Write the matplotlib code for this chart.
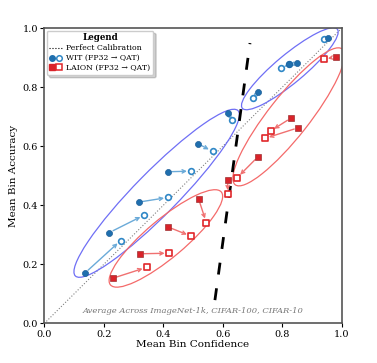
import matplotlib
matplotlib.use("Agg")
import matplotlib.pyplot as plt
from matplotlib.patches import Ellipse
from matplotlib.lines import Line2D
from matplotlib.legend_handler import HandlerTuple

plt.rcParams['font.family'] = 'DejaVu Serif'

# WIT bins: FP32 (filled) -> QAT (open)
wit_fp_x = [0.137, 0.219, 0.317, 0.416, 0.517, 0.617, 0.720, 0.822, 0.851, 0.956]
wit_fp_y = [0.171, 0.308, 0.411, 0.514, 0.609, 0.714, 0.785, 0.878, 0.881, 0.966]
wit_q_x = [0.257, 0.336, 0.417, 0.494, 0.566, 0.631, 0.703, 0.796, 0.824, 0.941]
wit_q_y = [0.281, 0.367, 0.427, 0.516, 0.583, 0.690, 0.763, 0.864, 0.878, 0.965]

# LAION bins
laion_fp_x = [0.230, 0.322, 0.416, 0.519, 0.617, 0.719, 0.830, 0.854, 0.980]
laion_fp_y = [0.153, 0.236, 0.327, 0.422, 0.486, 0.565, 0.696, 0.663, 0.903]
laion_q_x = [0.344, 0.419, 0.493, 0.545, 0.617, 0.649, 0.761, 0.742, 0.940]
laion_q_y = [0.190, 0.238, 0.296, 0.342, 0.437, 0.494, 0.652, 0.627, 0.895]

# ellipses: center x, center y, width, height, angle
wit_ell = [(0.378, 0.441, 0.783, 0.145, 45.7), (0.826, 0.863, 0.417, 0.096, 40.0)]
laion_ell = [(0.409, 0.288, 0.488, 0.13, 40.2), (0.822, 0.700, 0.584, 0.137, 52.0)]

# dashed separator
sep_x = [0.574, 0.692]
sep_y = [0.079, 0.950]

fig = plt.figure(figsize=(3.77, 3.63), dpi=100)
ax = fig.add_axes([0.1175, 0.109, 0.7885, 0.813])

ax.plot([0, 1], [0, 1], linestyle=':', color='gray', lw=0.8, zorder=1)

for cx, cy, w, h, a in wit_ell:
    ax.add_patch(Ellipse((cx, cy), w, h, angle=a, fill=False,
                         edgecolor='#6f6ff5', lw=0.9, zorder=2))
for cx, cy, w, h, a in laion_ell:
    ax.add_patch(Ellipse((cx, cy), w, h, angle=a, fill=False,
                         edgecolor='#f46a6a', lw=0.9, zorder=2))

ax.plot(sep_x, sep_y, color='black', lw=2.0, dashes=(4.3, 5), zorder=3)

for x0, y0, x1, y1 in zip(wit_fp_x, wit_fp_y, wit_q_x, wit_q_y):
    ax.annotate('', xy=(x1, y1), xytext=(x0, y0),
                arrowprops=dict(arrowstyle='->', color='#6aaad8', lw=1.0,
                                shrinkA=3, shrinkB=3, mutation_scale=6), zorder=4)
for x0, y0, x1, y1 in zip(laion_fp_x, laion_fp_y, laion_q_x, laion_q_y):
    ax.annotate('', xy=(x1, y1), xytext=(x0, y0),
                arrowprops=dict(arrowstyle='->', color='#f07070', lw=1.0,
                                shrinkA=3, shrinkB=3, mutation_scale=6), zorder=4)

ax.scatter(wit_q_x, wit_q_y, s=17, facecolor='white', edgecolor='#2f87c6',
           linewidth=1.2, zorder=5)
ax.scatter(wit_fp_x, wit_fp_y, s=19, color='#1f6fae', edgecolor='#1f5f99',
           linewidth=0.5, zorder=6)
ax.scatter(laion_q_x, laion_q_y, s=18, marker='s', facecolor='white',
           edgecolor='#e0262a', linewidth=1.2, zorder=5)
ax.scatter(laion_fp_x, laion_fp_y, s=19, marker='s', color='#d9232a',
           edgecolor='#8a1a1a', linewidth=0.4, zorder=6)

ax.text(0.5, 0.042, 'Average Across ImageNet-1k, CIFAR-100, CIFAR-10',
        ha='center', va='center', fontsize=6, style='italic', color='#777777')

ax.set_xlim(0, 1)
ax.set_ylim(0, 1)
ax.set_xticks([0, 0.2, 0.4, 0.6, 0.8, 1.0])
ax.set_yticks([0, 0.2, 0.4, 0.6, 0.8, 1.0])
ax.tick_params(labelsize=7, length=3, width=0.8, pad=1.5)
ax.set_xlabel('Mean Bin Confidence', fontsize=7.5, labelpad=1)
ax.set_ylabel('Mean Bin Accuracy', fontsize=7.5, labelpad=3)
for s in ax.spines.values():
    s.set_color('#555555')
    s.set_linewidth(1.2)

h_cal = Line2D([], [], linestyle=':', color='black', lw=0.8)
h_wit = (Line2D([], [], marker='o', ls='', color='#1f6fae', markersize=4),
         Line2D([], [], marker='o', ls='', markerfacecolor='white',
                markeredgecolor='#2f87c6', markeredgewidth=1.1, markersize=4))
h_laion = (Line2D([], [], marker='s', ls='', color='#d9232a', markersize=4),
           Line2D([], [], marker='s', ls='', markerfacecolor='white',
                  markeredgecolor='#e0262a', markeredgewidth=1.1, markersize=4))
leg = ax.legend([h_cal, h_wit, h_laion],
                ['Perfect Calibration', 'WIT (FP32 \u2192 QAT)', 'LAION (FP32 \u2192 QAT)'],
                handler_map={tuple: HandlerTuple(ndivide=None, pad=0.4)},
                loc='upper left', fontsize=5.6, title='Legend',
                title_fontproperties={'weight': 'bold', 'size': 6.2},
                frameon=True, fancybox=True, shadow={'alpha': 0.25},
                handlelength=1.6, borderpad=0.35, labelspacing=0.25,
                handletextpad=0.6, borderaxespad=0.3)
leg.get_frame().set_edgecolor('#cccccc')

fig.savefig('out.png', dpi=100)
